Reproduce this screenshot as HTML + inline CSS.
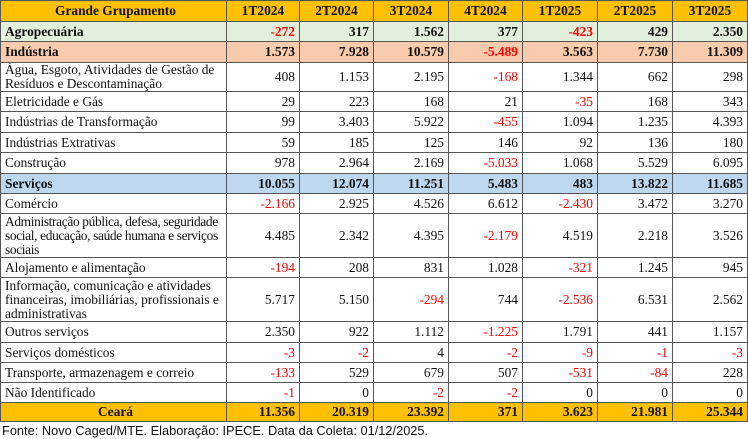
<!DOCTYPE html>
<html><head><meta charset="utf-8"><style>
html,body{margin:0;padding:0;background:#fff;width:748px;height:439px;overflow:hidden}
table{border-collapse:collapse;table-layout:fixed;position:absolute;left:0;top:0;width:747px;font-family:"Liberation Serif",serif;font-size:13.4px;color:#111}
td{border:1px solid #555;padding:0 4px 0 4px;text-align:right;line-height:14px;overflow:hidden;white-space:nowrap}
td:first-child{text-align:left;padding-left:4px;padding-right:0}
tr.h td{background:#FFC000;font-weight:bold;text-align:center}
tr.a td{background:#E2EFDA;font-weight:bold}
tr.i td{background:#F8CBAD;font-weight:bold}
tr.s td{background:#BDD7EE;font-weight:bold}
tr.c td{background:#FFC000;font-weight:bold}
tr.c td:first-child{text-align:center}
.r{color:#f00}
.t{letter-spacing:-0.35px}
.f{position:absolute;left:2px;top:423px;font-family:"Liberation Sans",sans-serif;font-size:12.8px;color:#111}
</style></head><body>
<table>
<colgroup><col style="width:226px"><col style="width:73px"><col style="width:74px"><col style="width:75px"><col style="width:74px"><col style="width:75px"><col style="width:75px"><col style="width:75px"></colgroup>
<tr class="h" style="height:21px"><td style="text-align:center">Grande Grupamento</td><td>1T2024</td><td>2T2024</td><td>3T2024</td><td>4T2024</td><td>1T2025</td><td>2T2025</td><td>3T2025</td></tr>
<tr class="a" style="height:20px"><td>Agropecuária</td><td class="r">-272</td><td>317</td><td>1.562</td><td>377</td><td class="r">-423</td><td>429</td><td>2.350</td></tr>
<tr class="i" style="height:21px"><td>Indústria</td><td>1.573</td><td>7.928</td><td>10.579</td><td class="r">-5.489</td><td>3.563</td><td>7.730</td><td>11.309</td></tr>
<tr style="height:29px"><td>Água, Esgoto, Atividades de Gestão de<br>Resíduos e Descontaminação</td><td>408</td><td>1.153</td><td>2.195</td><td class="r">-168</td><td>1.344</td><td>662</td><td>298</td></tr>
<tr style="height:20px"><td>Eletricidade e Gás</td><td>29</td><td>223</td><td>168</td><td>21</td><td class="r">-35</td><td>168</td><td>343</td></tr>
<tr style="height:21px"><td>Indústrias de Transformação</td><td>99</td><td>3.403</td><td>5.922</td><td class="r">-455</td><td>1.094</td><td>1.235</td><td>4.393</td></tr>
<tr style="height:20px"><td>Indústrias Extrativas</td><td>59</td><td>185</td><td>125</td><td>146</td><td>92</td><td>136</td><td>180</td></tr>
<tr style="height:21px"><td>Construção</td><td>978</td><td>2.964</td><td>2.169</td><td class="r">-5.033</td><td>1.068</td><td>5.529</td><td>6.095</td></tr>
<tr class="s" style="height:20px"><td>Serviços</td><td>10.055</td><td>12.074</td><td>11.251</td><td>5.483</td><td>483</td><td>13.822</td><td>11.685</td></tr>
<tr style="height:20px"><td>Comércio</td><td class="r">-2.166</td><td>2.925</td><td>4.526</td><td>6.612</td><td class="r">-2.430</td><td>3.472</td><td>3.270</td></tr>
<tr style="height:44px"><td class="t">Administração pública, defesa, seguridade<br>social, educação, saúde humana e serviços<br>sociais</td><td>4.485</td><td>2.342</td><td>4.395</td><td class="r">-2.179</td><td>4.519</td><td>2.218</td><td>3.526</td></tr>
<tr style="height:20px"><td>Alojamento e alimentação</td><td class="r">-194</td><td>208</td><td>831</td><td>1.028</td><td class="r">-321</td><td>1.245</td><td>945</td></tr>
<tr style="height:44px"><td>Informação, comunicação e atividades<br>financeiras, imobiliárias, profissionais e<br>administrativas</td><td>5.717</td><td>5.150</td><td class="r">-294</td><td>744</td><td class="r">-2.536</td><td>6.531</td><td>2.562</td></tr>
<tr style="height:21px"><td>Outros serviços</td><td>2.350</td><td>922</td><td>1.112</td><td class="r">-1.225</td><td>1.791</td><td>441</td><td>1.157</td></tr>
<tr style="height:20px"><td>Serviços domésticos</td><td class="r">-3</td><td class="r">-2</td><td>4</td><td class="r">-2</td><td class="r">-9</td><td class="r">-1</td><td class="r">-3</td></tr>
<tr style="height:20px"><td>Transporte, armazenagem e correio</td><td class="r">-133</td><td>529</td><td>679</td><td>507</td><td class="r">-531</td><td class="r">-84</td><td>228</td></tr>
<tr style="height:20px"><td>Não Identificado</td><td class="r">-1</td><td>0</td><td class="r">-2</td><td class="r">-2</td><td>0</td><td>0</td><td>0</td></tr>
<tr class="c" style="height:19px"><td>Ceará</td><td>11.356</td><td>20.319</td><td>23.392</td><td>371</td><td>3.623</td><td>21.981</td><td>25.344</td></tr>
</table>
<div class="f">Fonte: Novo Caged/MTE. Elaboração: IPECE. Data da Coleta: 01/12/2025.</div>
</body></html>
